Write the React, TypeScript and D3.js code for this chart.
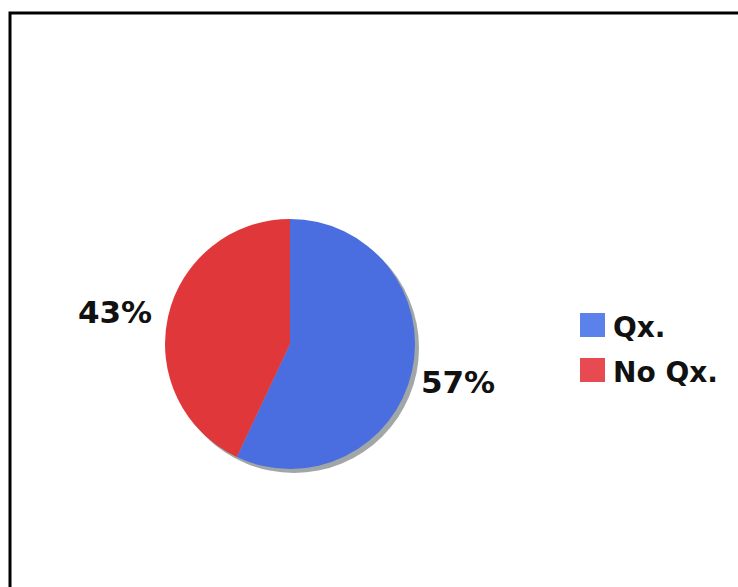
import React from "react";
import * as d3 from "d3";

const categories = ["Qx.", "No Qx."];
const values = [57, 43];
const colors = ["#4a6ee0", "#e0383a"];
const legendColors = ["#5a82ea", "#e84a52"];

export default function App() {
  const W = 738, H = 587;
  const cx = 290, cy = 344, r = 125;
  const pie = d3.pie<number>().sort(null).value((d) => d)(values);
  const arc = d3.arc<d3.PieArcDatum<number>>().innerRadius(0).outerRadius(r);
  const labelPos = [
    { x: 458, y: 393 },
    { x: 115, y: 323 },
  ];
  return (
    <svg width={W} height={H} style={{ position: "absolute", left: 0, top: 0 }}>
      <rect x={0} y={0} width={W} height={H} fill="#fff" />
      <path d={`M10,${H} L10,13 L${W},13`} fill="none" stroke="#000" strokeWidth={3} />
      <circle cx={cx + 4} cy={cy + 4} r={r} fill="#8a9090" opacity={0.8} />
      <g transform={`translate(${cx},${cy})`}>
        {pie.map((p, i) => (
          <path key={i} d={arc(p) || ""} fill={colors[i]} />
        ))}
      </g>
      {pie.map((p, i) => (
        <text
          key={i}
          x={labelPos[i].x}
          y={labelPos[i].y}
          textAnchor="middle"
          fontFamily="DejaVu Sans, Verdana, sans-serif"
          fontWeight="bold"
          fontSize={31}
          fill="#111"
        >
          {values[i]}%
        </text>
      ))}
      {categories.map((c, i) => (
        <g key={c} transform={`translate(580,${313 + i * 45})`}>
          <rect x={0} y={0} width={25} height={24} fill={legendColors[i]} />
          <text
            x={33}
            y={24}
            fontFamily="DejaVu Sans, Verdana, sans-serif"
            fontWeight="bold"
            fontSize={28}
            fill="#111"
          >
            {c}
          </text>
        </g>
      ))}
    </svg>
  );
}
